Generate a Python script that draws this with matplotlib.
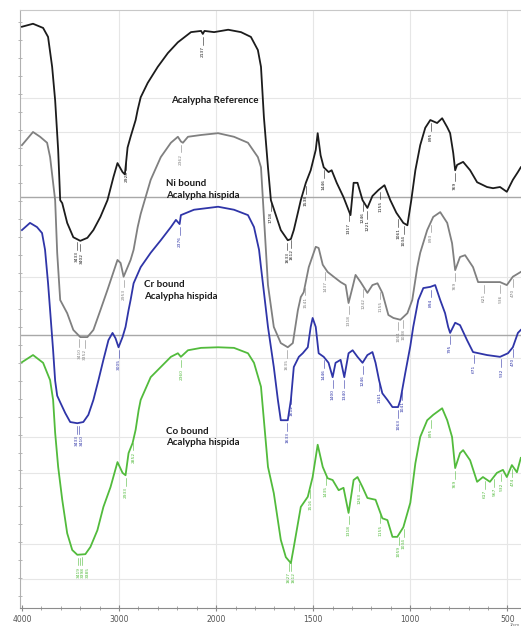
import numpy as np
import matplotlib
matplotlib.use("Agg")
import matplotlib.pyplot as plt

# FTIR spectra (wavenumber in 1/cm, transmittance in arbitrary stacked units)
ref_wn = [4000, 3886, 3782, 3731, 3689, 3658, 3627, 3606, 3585, 3534, 3471, 3399, 3326,
          3264, 3192, 3119, 3057, 3016, 2964, 2940, 2912, 2881, 2829, 2808, 2777, 2705,
          2601, 2497, 2394, 2259, 2155, 2137, 2120, 2021, 1938, 1872, 1821, 1785, 1769,
          1754, 1733, 1718, 1667, 1631, 1615, 1600, 1579, 1564, 1538, 1513, 1487, 1477,
          1462, 1446, 1421, 1405, 1379, 1344, 1308, 1292, 1272, 1246, 1221, 1195, 1164,
          1133, 1103, 1072, 1036, 1015, 995, 974, 949, 923, 897, 862, 836, 810, 795, 779,
          769, 759, 728, 692, 656, 605, 574, 538, 503, 472, 446, 431]
ref_t = [97.2, 97.7, 97.0, 95.5, 90.5, 84.9, 76.6, 68.2, 67.7, 64.4, 62.0, 61.4, 61.9,
         63.2, 65.4, 68.2, 72.1, 74.4, 72.9, 72.5, 77.0, 78.8, 81.6, 83.3, 85.4, 87.8,
         90.5, 92.8, 94.6, 96.3, 96.5, 96.0, 96.5, 96.3, 96.7, 96.3, 95.5, 93.3, 90.5,
         82.1, 73.7, 68.2, 63.2, 61.5, 61.7, 63.2, 66.1, 68.2, 71.1, 73.2, 76.6, 79.4,
         75.7, 73.7, 72.9, 73.2, 71.1, 68.7, 65.7, 71.1, 71.1, 68.2, 66.9, 68.9, 69.9,
         70.7, 68.2, 66.1, 64.4, 64.0, 68.2, 73.2, 77.4, 80.3, 81.6, 81.1, 81.9, 80.4, 79.4,
         76.1, 73.2, 74.1, 74.6, 73.2, 71.2, 70.4, 70.2, 70.4, 69.6, 71.6, 72.9, 73.7]

ni_wn = [4000, 3886, 3813, 3741, 3710, 3679, 3658, 3637, 3606, 3534, 3471, 3399, 3326,
         3264, 3192, 3119, 3016, 2984, 2953, 2881, 2850, 2808, 2777, 2674, 2570, 2466,
         2394, 2362, 2342, 2290, 2155, 1990, 1908, 1836, 1785, 1769, 1733, 1703, 1667,
         1631, 1605, 1579, 1564, 1549, 1523, 1487, 1472, 1451, 1426, 1395, 1359, 1333,
         1318, 1297, 1282, 1256, 1221, 1195, 1169, 1144, 1113, 1087, 1051, 1015, 990,
         964, 949, 913, 882, 846, 810, 785, 769, 744, 718, 677, 651, 605, 574, 538, 503,
         472, 431]
ni_t = [77.4, 79.6, 78.8, 77.8, 75.4, 71.1, 68.2, 59.4, 51.5, 49.3, 46.5, 45.3, 45.3,
        46.5, 49.8, 53.2, 58.2, 57.7, 55.4, 58.2, 59.9, 63.7, 65.9, 71.6, 75.4, 77.8,
        78.8, 78.0, 77.8, 78.8, 79.1, 79.4, 78.8, 77.8, 75.4, 73.7, 54.0, 47.0, 44.3,
        43.6, 44.3, 49.8, 52.0, 52.8, 57.0, 60.4, 60.2, 57.4, 56.2, 55.4, 54.5, 54.0,
        51.0, 53.7, 55.7, 54.5, 52.7, 54.0, 54.3, 52.7, 49.0, 48.5, 48.2, 49.3, 51.5,
        57.0, 59.4, 63.2, 65.4, 66.2, 64.4, 61.0, 56.5, 58.7, 59.0, 57.0, 54.5, 54.5,
        54.5, 54.5, 54.0, 55.4, 56.2]

cr_wn = [4000, 3917, 3845, 3793, 3762, 3731, 3710, 3679, 3658, 3637, 3606, 3554, 3503,
         3430, 3368, 3316, 3264, 3212, 3161, 3109, 3067, 3036, 3005, 2964, 2933, 2902,
         2881, 2850, 2777, 2674, 2570, 2466, 2414, 2376, 2363, 2228, 1990, 1908, 1836,
         1805, 1779, 1769, 1733, 1703, 1682, 1667, 1631, 1615, 1600, 1574, 1554, 1528,
         1513, 1503, 1487, 1472, 1446, 1421, 1400, 1385, 1359, 1340, 1318, 1297, 1272,
         1246, 1221, 1195, 1179, 1161, 1144, 1118, 1092, 1063, 1051, 1026, 1000, 985, 959,
         933, 897, 872, 846, 821, 805, 795, 769, 744, 708, 677, 605, 538, 497, 472, 446,
         431]
cr_t = [63.2, 64.4, 63.7, 62.7, 59.9, 54.3, 49.8, 43.1, 38.0, 35.5, 34.4, 32.6, 31.1,
        30.9, 31.1, 32.3, 34.8, 38.1, 41.5, 44.8, 46.0, 45.1, 43.6, 45.3, 47.0, 49.8,
        51.5, 54.3, 57.0, 59.4, 61.5, 63.7, 64.9, 64.2, 65.7, 66.6, 67.1, 66.6, 65.7,
        63.7, 59.9, 57.0, 47.0, 40.3, 34.8, 31.4, 31.4, 34.8, 40.3, 42.0, 42.6, 43.6,
        47.0, 48.5, 47.0, 42.6, 42.0, 41.0, 38.6, 41.0, 41.5, 38.6, 42.6, 43.1, 42.0,
        41.0, 42.3, 42.8, 41.0, 38.1, 35.9, 34.8, 33.6, 33.6, 34.8, 39.3, 43.8, 47.0, 51.5,
        53.5, 53.7, 54.0, 51.5, 49.3, 47.0, 46.0, 47.7, 47.3, 44.8, 42.8, 42.3, 42.0, 42.6,
        43.6, 46.0, 46.5]

co_wn = [4000, 3886, 3782, 3710, 3679, 3658, 3627, 3585, 3534, 3482, 3430, 3347, 3295,
         3223, 3161, 3088, 3016, 2964, 2933, 2902, 2860, 2829, 2798, 2777, 2674, 2570,
         2466, 2394, 2363, 2290, 2155, 1990, 1908, 1836, 1805, 1769, 1733, 1703, 1667,
         1641, 1615, 1600, 1564, 1528, 1503, 1477, 1451, 1426, 1400, 1369, 1344, 1318,
         1292, 1272, 1246, 1221, 1179, 1144, 1118, 1092, 1067, 1036, 1000, 974, 949, 913,
         882, 836, 810, 785, 769, 744, 728, 692, 656, 626, 590, 554, 523, 503, 477, 451,
         431]
co_t = [41.1, 42.3, 41.0, 38.1, 34.8, 29.3, 23.6, 18.1, 12.5, 9.7, 8.9, 9.0, 10.2,
        13.0, 16.9, 20.2, 24.4, 22.6, 22.2, 25.9, 27.6, 29.8, 33.1, 34.8, 38.6, 40.3,
        42.0, 42.6, 42.0, 43.1, 43.5, 43.6, 43.5, 42.6, 41.0, 37.0, 23.6, 19.2, 11.4,
        8.5, 7.5, 10.2, 16.9, 18.6, 21.9, 27.3, 23.6, 21.7, 21.4, 19.7, 20.1, 15.9,
        21.4, 21.9, 20.2, 18.4, 18.1, 15.0, 14.7, 11.9, 11.9, 13.5, 17.6, 24.2, 28.6, 31.4,
        32.3, 33.4, 31.4, 28.6, 23.4, 25.9, 26.4, 24.7, 21.1, 21.9, 21.1, 22.6, 23.1, 21.9,
        23.9, 22.7, 25.1]

# band positions printed under each spectrum
ref_peaks = [3433, 3402, 2924, 2137, 1718, 1633, 1612, 1538, 1446, 1317, 1246, 1221,
             1155, 1061, 1034, 895, 769]
ni_peaks = [3410, 3352, 2953, 2362, 1635, 1541, 1437, 1318, 1242, 1155, 1061, 1038,
            893, 769, 621, 536, 470]
cr_peaks = [3433, 3410, 3005, 2376, 1633, 1612, 1446, 1400, 1340, 1246, 1161, 1063,
            1041, 894, 795, 671, 532, 470]
co_peaks = [3419, 3398, 3385, 2933, 2852, 2360, 1627, 1612, 1516, 1435, 1318, 1263,
            1155, 1059, 1034, 895, 769, 617, 567, 532, 474]

spectra = [
    (ref_wn, ref_t, ref_peaks, "#1c1c1c", "Acalypha Reference"),
    (ni_wn, ni_t, ni_peaks, "#808080", "Ni bound\nAcalypha hispida"),
    (cr_wn, cr_t, cr_peaks, "#2f35a8", "Cr bound\nAcalypha hispida"),
    (co_wn, co_t, co_peaks, "#52bb3c", "Co bound\nAcalypha hispida"),
]
label_pos = [(2466, 84.9), (2518, 70.0), (2746, 53.1), (2518, 28.6)]


# x axis is expanded two-fold below 2000 1/cm, as on the instrument printout
def fwd(w):
    w = np.asarray(w, dtype=float)
    return np.where(w >= 2000, w, 2 * w - 2000)


def inv(v):
    v = np.asarray(v, dtype=float)
    return np.where(v >= 2000, v, (v + 2000) / 2)


fig = plt.figure(figsize=(5.21, 6.28), dpi=100)
ax = fig.add_axes([20 / 521, 20 / 628, 501 / 521, 598 / 628])
ax.set_xscale("function", functions=(fwd, inv))
ax.set_xlim(4020, 430)
ax.set_ylim(0, 100)

# panel grid
for xv in [3000, 2000, 1500, 1000, 500]:
    ax.axvline(xv, color="#e6e6e6", lw=0.8, zorder=0)
for yv in [85.3, 79.6, 55.4, 41.8, 28.6, 22.6, 10.7, 4.8]:
    ax.axhline(yv, color="#e6e6e6", lw=0.8, zorder=0)
for yv in [68.7, 45.7]:
    ax.axhline(yv, color="#a8a8a8", lw=1.0, zorder=0)

for (wn, t, peaks, color, name), (lx, ly) in zip(spectra, label_pos):
    wn = np.array(wn)
    t = np.array(t)
    ax.plot(wn, t, color=color, lw=1.3, zorder=3)
    # peak markers: short leader and rotated wavenumber, nudged apart when crowded
    last_px = -100.0
    for p in sorted(peaks, reverse=True):
        yp = np.interp(p, wn[::-1], t[::-1])
        px = ax.transData.transform((p, yp))[0]
        shift = max(0.0, last_px + 4.6 - px)
        last_px = px + shift
        ax.plot([p, p], [yp - 0.5, yp - 1.8], color=color, lw=0.4, zorder=2)
        ax.annotate(str(p), xy=(p, yp - 2.0), xytext=(shift * 0.72, 0),
                    textcoords="offset points", rotation=90, ha="center", va="top",
                    fontsize=3.2, color=color, zorder=2)
    ax.text(lx, ly, name, fontsize=7, family="Lato", fontweight="bold",
            color="#1a1a1a", ha="left", va="center", linespacing=1.35, zorder=4)

# axis styling
ax.set_xticks([4000, 3000, 2000, 1500, 1000, 500])
ax.set_xticklabels(["4000", "3000", "2000", "1500", "1000", "500"])
minor_x = list(range(3800, 2000, -200)) + [w for w in range(1900, 400, -100) if w % 500]
ax.set_xticks(minor_x, minor=True)
ax.set_yticks([])
ax.set_yticks(np.arange(2, 100, 3), minor=True)
ax.tick_params(axis="x", which="major", labelsize=5.5, labelcolor="#555555",
               color="#888888", length=4, direction="inout", pad=3)
ax.tick_params(axis="x", which="minor", color="#999999", length=2.5, direction="inout")
ax.tick_params(axis="y", which="minor", color="#aaaaaa", length=2.5, direction="inout")

ax.spines["right"].set_visible(False)
ax.spines["top"].set_color("#c8c8c8")
ax.spines["left"].set_color("#b0b0b0")
ax.spines["bottom"].set_color("#8c8c8c")
for s in ax.spines.values():
    s.set_linewidth(0.8)

fig.text(515 / 521, 0.5 / 628, "1/cm", fontsize=3, color="#666666", ha="center", va="bottom")

fig.savefig("out.png", dpi=100)
